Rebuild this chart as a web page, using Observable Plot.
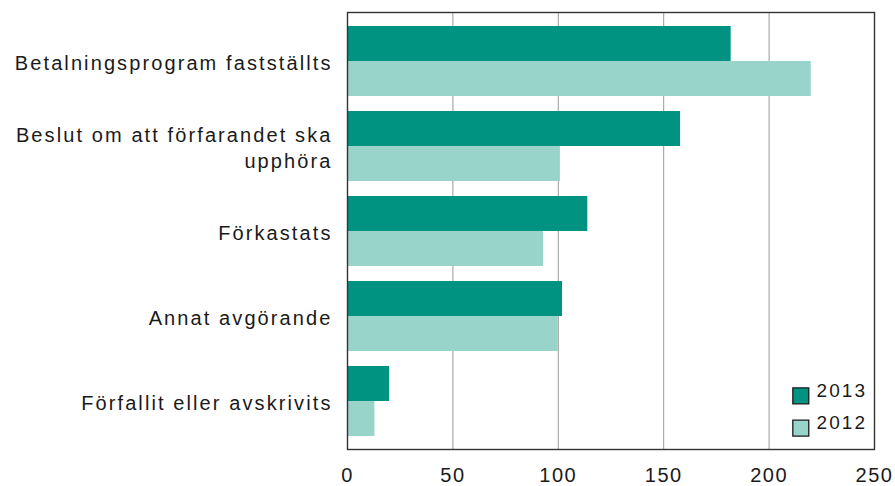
<!DOCTYPE html>
<html><head><meta charset="utf-8">
<script src="https://cdn.jsdelivr.net/npm/d3@7"></script>
<script src="https://cdn.jsdelivr.net/npm/@observablehq/plot@0.6"></script>
<style>body{margin:0;background:#fff}</style>
</head><body><div id="chart"></div>
<script>
const categories = [
  "Betalningsprogram fastställts",
  "Beslut om att förfarandet ska upphöra",
  "Förkastats",
  "Annat avgörande",
  "Förfallit eller avskrivits"
];
const categoryLabels = [
  "Betalningsprogram fastställts",
  "Beslut om att förfarandet ska\nupphöra",
  "Förkastats",
  "Annat avgörande",
  "Förfallit eller avskrivits"
];
const years = ["2013", "2012"];
const values2013 = [182, 158, 114, 102, 20];
const values2012 = [220, 101, 93, 100, 13];
const xTicks = [0, 50, 100, 150, 200, 250];

const rows = categories.flatMap((c, i) => [
  {category: c, year: "2013", value: values2013[i]},
  {category: c, year: "2012", value: values2012[i]}
]);
const labelOf = new Map(categories.map((c, i) => [c, categoryLabels[i]]));

const chart = Plot.plot({
  width: 895, height: 486,
  marginLeft: 347, marginRight: 21, marginTop: 12, marginBottom: 37,
  style: {fontFamily: "'Liberation Sans', Arial, sans-serif", fontSize: "20px", letterSpacing: "2.1px", color: "#1a1a1a", background: "#fff"},
  x: {domain: [0, 250], ticks: xTicks, label: null},
  y: {domain: categories, paddingInner: 0.1765, paddingOuter: 0.1588, label: null},
  color: {domain: years, range: ["#009382", "#99d4ca"]},
  marks: [
    Plot.gridX(xTicks.slice(1, -1), {stroke: "#9a9a9a", strokeOpacity: 1}),
    Plot.barX(rows.filter(d => d.year === "2013"), {x: "value", y: "category", fill: "year", insetBottom: 35}),
    Plot.barX(rows.filter(d => d.year === "2012"), {x: "value", y: "category", fill: "year", insetTop: 35}),
    Plot.axisX({ticks: xTicks, tickSize: 0, tickPadding: 18, fontSize: 20, label: null, fill: "#1a1a1a"}),
    Plot.axisY({tickSize: 0, tickPadding: 15, tickFormat: d => labelOf.get(d), fontSize: 20, lineHeight: 1.3, label: null, fill: "#1a1a1a"}),
    Plot.frame({stroke: "#333", strokeWidth: 1.4}),
    ...years.flatMap((yr, i) => [
      Plot.dot([yr], {fill: d => d, symbol: "square", r: 9, stroke: "#1a1a1a", strokeWidth: 1.3, frameAnchor: "bottom-right", dx: -73.7, dy: -53.7 + i * 32.4}),
      Plot.text([yr], {text: d => d, frameAnchor: "bottom-right", textAnchor: "start", dx: -58, dy: -52.5 + i * 32.4, fontSize: 19, fill: "#1a1a1a", ariaLabel: "legendlabel"})
    ])
  ]
});
chart.querySelectorAll('[aria-label="x-axis tick label"] text, [aria-label="legendlabel"] text').forEach(t => t.style.letterSpacing = "1.5px");
document.getElementById("chart").appendChild(chart);
</script>
</body></html>
